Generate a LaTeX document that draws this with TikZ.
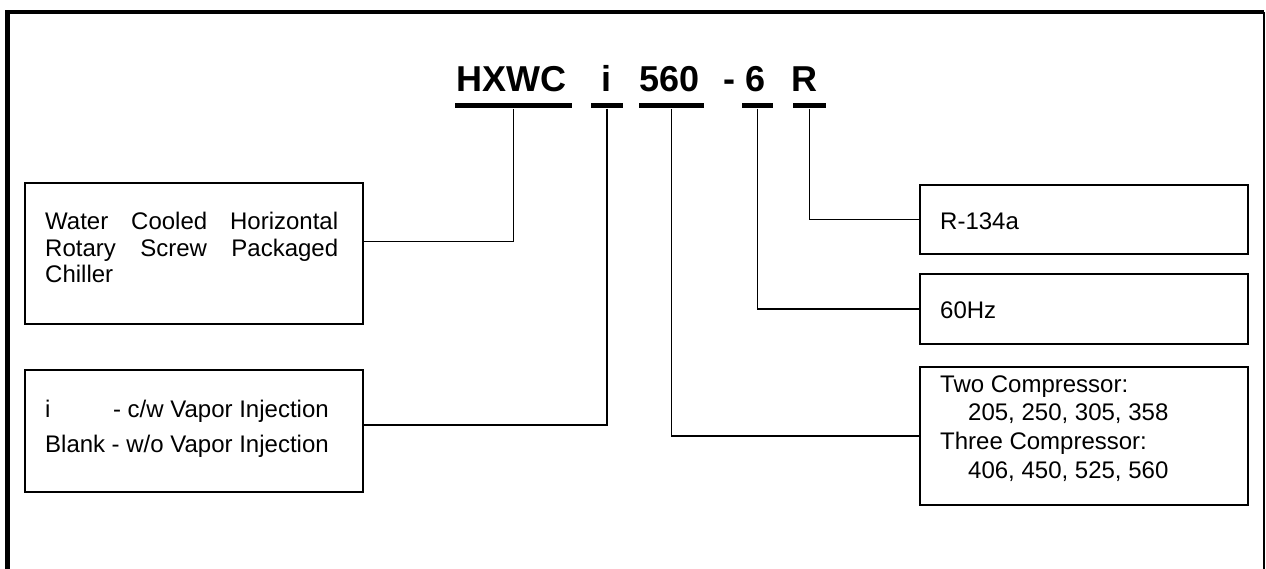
\documentclass[tikz,border=0pt]{standalone}
\usepackage{fontspec}
\setmainfont{Liberation Sans}
\usetikzlibrary{positioning}
\tikzset{
    infobox/.style={
        draw,
        line width=1.6pt,
        inner sep=0pt
    },
    bar/.style={
        fill=black,
        inner sep=0pt,
        minimum height=5pt
    },
    code/.style={
        anchor=base west,
        inner sep=0pt,
        font=\fontsize{36}{40}\selectfont\bfseries
    },
    txt/.style={
        anchor=base west,
        inner sep=0pt,
        font=\fontsize{24}{28}\selectfont
    },
    link/.style={line width=1.6pt}
}
\newcommand{\jline}[1]{\makebox[293pt][s]{#1}}

\begin{document}
\begin{tikzpicture}[x=1pt, y=-1pt]
    \useasboundingbox (0,0) rectangle (1266,569);
    % frame
    \draw[line width=4.5pt] (7.5,569) -- (7.5,12) -- (1264,12);
    \draw[line width=1.5pt] (1264,12) -- (1264,569);

    % model code
    \node[code] (hxwc) at (456,92) {HXWC};
    \node[code] (inj) at (601,92) {i};
    \node[code] (cap) at (639,92) {560};
    \node[code] (hz) at (723,92) {- 6};
    \node[code] (ref) at (791,92) {R};

    \node[bar, minimum width=117pt] (hxbar) at (513.5,106) {};
    \node[bar, minimum width=32pt] (injbar) at (607,106) {};
    \node[bar, minimum width=65pt] (capbar) at (671.5,106) {};
    \node[bar, minimum width=31pt] (hzbar) at (757.5,106) {};
    \node[bar, minimum width=33pt] (refbar) at (809.5,106) {};

    % boxes
    \node[infobox, minimum width=338pt, minimum height=141pt] (waterbox) at (194,253.5) {};
    \node[infobox, minimum width=338pt, minimum height=122pt] (vaporbox) at (194,431) {};
    \node[infobox, minimum width=328pt, minimum height=69pt] (refbox) at (1084,219.5) {};
    \node[infobox, minimum width=328pt, minimum height=70pt] (hzbox) at (1084,309) {};
    \node[infobox, minimum width=328pt, minimum height=138pt] (capbox) at (1084,436) {};

    \node[txt] (watertxt) at (45,230) {\parbox[t]{293pt}{\fontsize{24}{26.5}\selectfont
        \jline{Water Cooled Horizontal}\\\jline{Rotary Screw Packaged}\\Chiller}};
    \node[txt, font=\fontsize{24}{35}\selectfont] (vaportxt) at (45,417) {%
        \begin{tabular}[t]{@{}l@{\hspace{6.5pt}}r@{}}
            i & - c/w Vapor Injection\\
            Blank & - w/o Vapor Injection
        \end{tabular}};
    \node[txt] (reftxt) at (940,230) {R-134a};
    \node[txt] (hztxt) at (940,319) {60Hz};
    \node[txt] (captxt) at (940,392) {\parbox[t]{300pt}{\fontsize{24}{28.7}\selectfont
        Two Compressor:\\\hspace*{28pt}205, 250, 305, 358\\
        Three Compressor:\\\hspace*{28pt}406, 450, 525, 560}};

    % connectors
    \draw[link] (hxbar.south) |- (waterbox.4);
    \draw[link] (injbar.south) |- (vaporbox.2);
    \draw[link] (capbar.south) |- (capbox.west);
    \draw[link] (hzbar.south) |- (hzbox.west);
    \draw[link] (refbar.south) |- (refbox.west);
\end{tikzpicture}
\end{document}
